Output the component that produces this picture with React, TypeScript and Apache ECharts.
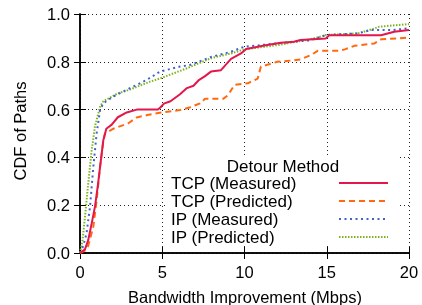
import React, { useEffect, useRef } from "react";
import * as echarts from "echarts";

const xTicks = [0, 5, 10, 15, 20];
const yTicks = [0, 0.2, 0.4, 0.6, 0.8, 1.0];

const seriesNames = ["TCP (Measured)", "TCP (Predicted)", "IP (Measured)", "IP (Predicted)"];

const tcpMeasured: [number, number][] = [
  [0, 0], [0.3, 0.015], [0.5, 0.054], [0.7, 0.12], [0.91, 0.194], [1.1, 0.29], [1.22, 0.36],
  [1.42, 0.473], [1.6, 0.52], [1.93, 0.537], [2.3, 0.568], [2.84, 0.588], [3.45, 0.6],
  [4.74, 0.6], [4.9, 0.61], [5.1, 0.625], [5.5, 0.635], [6.08, 0.664], [6.5, 0.69],
  [6.9, 0.7], [7.2, 0.722], [7.6, 0.74], [7.96, 0.759], [8.57, 0.765], [9.18, 0.812],
  [9.79, 0.835], [10.1, 0.854], [11.2, 0.868], [12.2, 0.88], [13.0, 0.884], [13.4, 0.891],
  [14.95, 0.898], [15.15, 0.911], [18.3, 0.911], [19.1, 0.926], [20, 0.933],
];

const tcpPredicted: [number, number][] = [
  [0, 0], [0.3, 0.01], [0.5, 0.03], [0.81, 0.11], [1.01, 0.22], [1.22, 0.36], [1.42, 0.47],
  [1.52, 0.5], [2.03, 0.52], [2.94, 0.543], [3.44, 0.567], [4.1, 0.577], [4.86, 0.587],
  [6.08, 0.598], [6.7, 0.61], [7.3, 0.626], [7.6, 0.645], [8.7, 0.645], [9.0, 0.66],
  [9.38, 0.703], [10.2, 0.71], [10.8, 0.73], [11.0, 0.78], [12.0, 0.8], [12.8, 0.805],
  [13.4, 0.81], [14.04, 0.828], [14.45, 0.846], [15.7, 0.846], [16.1, 0.852], [16.7, 0.867],
  [17.9, 0.877], [18.3, 0.894], [20, 0.901],
];

const ipMeasured: [number, number][] = [
  [0, 0], [0.2, 0.03], [0.4, 0.083], [0.61, 0.194], [0.81, 0.36], [1.01, 0.5], [1.22, 0.598],
  [1.42, 0.627], [2.03, 0.655], [2.84, 0.683], [3.5, 0.705], [4.05, 0.724], [4.86, 0.759],
  [6.08, 0.78], [6.7, 0.787], [7.96, 0.82], [9.18, 0.842], [9.98, 0.863], [12.0, 0.877],
  [13.0, 0.884], [14.0, 0.89], [14.95, 0.912], [16.9, 0.919], [17.7, 0.933], [19, 0.933],
  [20, 0.94],
];

const ipPredicted: [number, number][] = [
  [0, 0], [0.15, 0.05], [0.3, 0.15], [0.5, 0.29], [0.71, 0.43], [0.91, 0.53], [1.22, 0.612],
  [1.42, 0.635], [2.3, 0.668], [3.0, 0.683], [4.26, 0.717], [4.86, 0.73], [6.5, 0.773],
  [7.96, 0.815], [9.18, 0.835], [10.0, 0.852], [12.0, 0.87], [14.0, 0.894], [14.95, 0.912],
  [16.9, 0.919], [17.7, 0.935], [18.2, 0.947], [20, 0.958],
];

const FONT = "'Liberation Sans', Arial, Helvetica, sans-serif";

const styles = [
  { color: "#e3174b", type: "solid" as any, width: 2 },
  { color: "#ff6a10", type: [6, 4] as any, width: 2 },
  { color: "#3f63c8", type: [2, 3.5] as any, width: 2 },
  { color: "#7fb41e", type: [1.5, 1.5] as any, width: 2 },
];

export default function App() {
  const ref = useRef<HTMLDivElement>(null);
  useEffect(() => {
    if (!ref.current) return;
    const chart = echarts.init(ref.current, null, { renderer: "svg" });
    const datas = [tcpMeasured, tcpPredicted, ipMeasured, ipPredicted];
    const axisCommon = {
      min: 0,
      axisLine: { show: true, lineStyle: { color: "#000", width: 1.5 } },
      axisTick: { show: true, inside: true, length: 6, lineStyle: { color: "#000", width: 1 } },
    };
    const legendY = [183, 201, 219, 237];
    const graphics: any[] = [
      { type: "rect", z: 50, shape: { x: 168, y: 155, width: 232, height: 91 }, style: { fill: "#fff" } },
      {
        type: "text", z: 51, x: 283, y: 166,
        style: { text: "Detour Method", font: `17px ${FONT}`, fill: "#000", textAlign: "center", textVerticalAlign: "middle" },
      },
      {
        type: "text", z: 51, x: 245, y: 297,
        style: { text: "Bandwidth Improvement (Mbps)", font: `16.5px ${FONT}`, fill: "#000", textAlign: "center", textVerticalAlign: "middle" },
      },
      {
        type: "text", z: 51, x: 20, y: 131, rotation: Math.PI / 2,
        style: { text: "CDF of Paths", font: `16.5px ${FONT}`, fill: "#000", textAlign: "center", textVerticalAlign: "middle" },
      },
    ];
    seriesNames.forEach((n, i) => {
      graphics.push({
        type: "text", z: 51, x: 171, y: legendY[i],
        style: { text: n, font: `17px ${FONT}`, fill: "#000", textAlign: "left", textVerticalAlign: "middle" },
      });
      graphics.push({
        type: "line", z: 51,
        shape: { x1: 339, y1: legendY[i], x2: 388, y2: legendY[i] },
        style: { stroke: styles[i].color, lineWidth: styles[i].width, lineDash: styles[i].type === "solid" ? null : styles[i].type },
      });
    });
    chart.setOption({
      animation: false,
      grid: { left: 80, right: 13, top: 14, bottom: 52, containLabel: false },
      xAxis: [
        {
          ...axisCommon, type: "value", position: "bottom", max: 20, interval: 5,
          axisLabel: { show: true, margin: 10, color: "#000", fontSize: 16.5, fontFamily: FONT },
          splitLine: { show: true, lineStyle: { color: "#222", width: 1, type: [1, 3] } },
        },
        {
          ...axisCommon, type: "value", position: "top", max: 20, interval: 5,
          axisLabel: { show: false }, splitLine: { show: false },
        },
      ],
      yAxis: [
        {
          ...axisCommon, type: "value", position: "left", max: 1, interval: 0.2,
          axisLabel: { show: true, margin: 10, color: "#000", fontSize: 16.5, fontFamily: FONT, formatter: (v: number) => v.toFixed(1) },
          splitLine: { show: true, lineStyle: { color: "#222", width: 1, type: [1, 3] } },
        },
        {
          ...axisCommon, type: "value", position: "right", max: 1, interval: 0.2,
          axisLabel: { show: false }, splitLine: { show: false },
        },
      ],
      series: datas.map((d, i) => ({
        name: seriesNames[i],
        type: "line",
        data: d,
        showSymbol: false,
        symbol: "none",
        xAxisIndex: 0,
        yAxisIndex: 0,
        lineStyle: { color: styles[i].color, width: styles[i].width, type: styles[i].type },
        z: 10 - i,
      })),
      graphic: graphics,
    });
    return () => chart.dispose();
  }, []);
  return <div ref={ref} style={{ position: "fixed", left: 0, top: 0, width: 422, height: 305 }} />;
}
